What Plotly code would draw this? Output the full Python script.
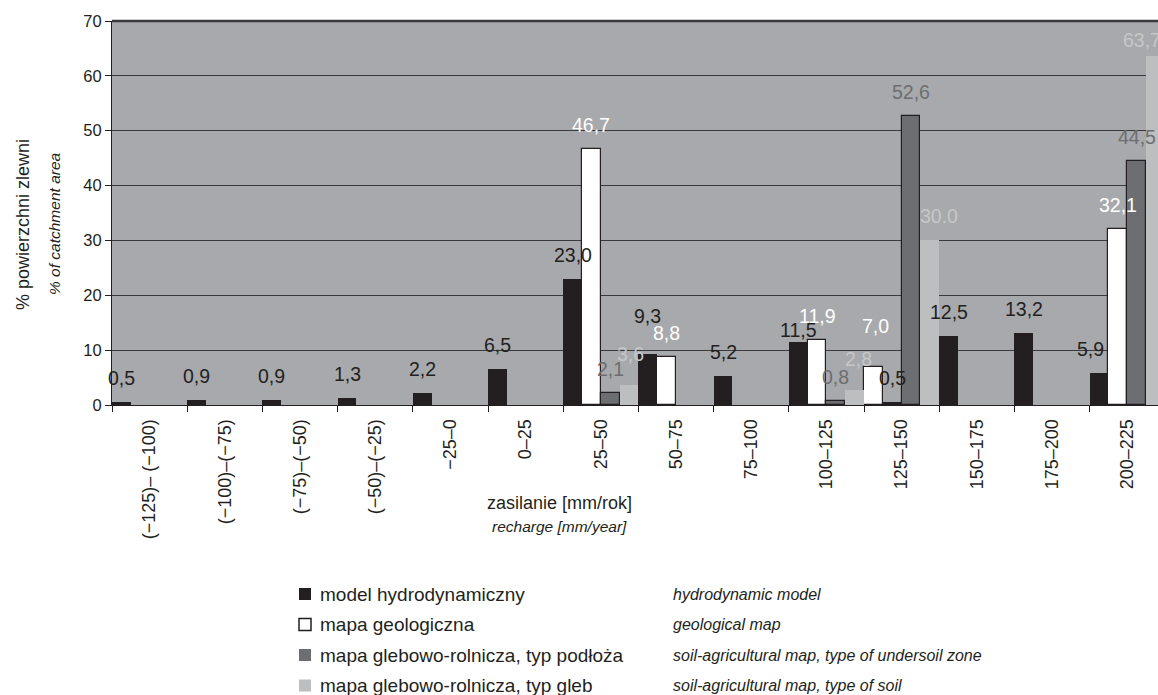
import plotly.graph_objects as go

# ---------------- data ----------------
categories = ["(−125)– (−100)", "(−100)–(−75)", "(−75)–(−50)", "(−50)–(−25)", "−25–0",
              "0–25", "25–50", "50–75", "75–100", "100–125", "125–150", "150–175",
              "175–200", "200–225"]
model_hydro = [0.5, 0.9, 0.9, 1.3, 2.2, 6.5, 23.0, 9.3, 5.2, 11.5, 0.5, 12.5, 13.2, 5.9]
geol_map = [None, None, None, None, None, None, 46.7, 8.8, None, 11.9, 7.0, None, None, 32.1]
soil_undersoil = [None, None, None, None, None, None, 2.1, None, None, 0.8, 52.6, None, None, 44.5]
soil_type = [None, None, None, None, None, None, 3.6, None, None, 2.8, 30.0, None, None, 63.7]

names_pl = ["model hydrodynamiczny", "mapa geologiczna",
            "mapa glebowo-rolnicza, typ podłoża", "mapa glebowo-rolnicza, typ gleb"]
names_en = ["hydrodynamic model", "geological map",
            "soil-agricultural map, type of undersoil zone", "soil-agricultural map, type of soil"]

# ---------------- style ----------------
FONT = "Liberation Sans, Arial, sans-serif"
INK = "#231f20"
bar_colors = ["#231f20", "#ffffff", "#6d6e71", "#bcbec0"]
line_w = [0, 1.2, 1.2, 0]
label_colors = ["#231f20", "#ffffff", "#6d6e71", "#c6c7c9"]
series = [model_hydro, geol_map, soil_undersoil, soil_type]

W, H = 1158, 695
ML, MT, MB = 112, 21, 290
PW, PH = W - ML, H - MT - MB
CAT_PX = 75.2
x_max = (PW / CAT_PX) - 0.5

slot_w = 0.25
# in the 125–150 group the first two bars are drawn in swapped order
swapped_cat = categories.index("125–150")


def slot_of(t, i):
    if i == swapped_cat and t in (0, 1):
        return 1 - t
    return t


def fmt(t, i, v):
    s = f"{v:.1f}"
    if not (t == 3 and i == swapped_cat):
        s = s.replace(".", ",")
    return s


# label nudges (dx, dy) in px for a few labels that were moved in the original
nudges = {(0, 7): (0, 14), (0, 9): (0, -12), (0, 13): (-9, 0),
          (1, 10): (2, 17), (3, 6): (1, 7), (3, 9): (4, 7), (3, 10): (9, 0),
          (3, 13): (-13, -8)}

fig = go.Figure()
annotations = []
for t, vals in enumerate(series):
    offsets = [-0.5 + slot_w * slot_of(t, i) for i in range(len(categories))]
    fig.add_trace(go.Bar(
        x=categories, y=vals, name=names_pl[t],
        offset=offsets, width=slot_w,
        marker=dict(color=bar_colors[t], line=dict(color=INK, width=line_w[t])),
        showlegend=False, hoverinfo="x+y",
    ))
    for i, v in enumerate(vals):
        if v is None:
            continue
        dx, dy = nudges.get((t, i), (0, 0))
        annotations.append(dict(
            x=i + offsets[i] + slot_w / 2, y=v, xref="x", yref="y",
            text=fmt(t, i, v), showarrow=False,
            xanchor="center", yanchor="middle",
            xshift=dx, yshift=24 + dy,
            font=dict(family=FONT, size=19.5, color=label_colors[t]),
        ))


def px2x(px):
    return (px - ML) / PW


def px2y(py):
    return (MT + PH - py) / PH


# axis titles
annotations += [
    dict(text="% powierzchni zlewni", x=px2x(22.5), y=px2y(224.5), xref="paper", yref="paper",
         textangle=-90, showarrow=False, xanchor="center", yanchor="middle",
         font=dict(family=FONT, size=18, color=INK)),
    dict(text="<i>% of catchment area</i>", x=px2x(55), y=px2y(224), xref="paper", yref="paper",
         textangle=-90, showarrow=False, xanchor="center", yanchor="middle",
         font=dict(family=FONT, size=15.5, color=INK)),
    dict(text="zasilanie [mm/rok]", x=px2x(559), y=px2y(503), xref="paper", yref="paper",
         showarrow=False, xanchor="center", yanchor="middle",
         font=dict(family=FONT, size=18, color=INK)),
    dict(text="<i>recharge [mm/year]</i>", x=px2x(559), y=px2y(526), xref="paper", yref="paper",
         showarrow=False, xanchor="center", yanchor="middle",
         font=dict(family=FONT, size=15.5, color=INK)),
]

# legend (manual, two-language)
shapes = []
row_y = [594, 624.5, 655, 685.5]
for k in range(4):
    yc = row_y[k]
    shapes.append(dict(type="rect", xref="paper", yref="paper",
                       x0=px2x(299), x1=px2x(311), y0=px2y(yc + 6), y1=px2y(yc - 6),
                       fillcolor=bar_colors[k],
                       line=dict(color=INK if k == 1 else bar_colors[k], width=1.5 if k == 1 else 0)))
    annotations.append(dict(text=names_pl[k], x=px2x(318), y=px2y(yc), xref="paper", yref="paper",
                            showarrow=False, xanchor="left", yanchor="middle",
                            font=dict(family=FONT, size=19, color=INK)))
    annotations.append(dict(text=f"<i>{names_en[k]}</i>", x=px2x(671), y=px2y(yc), xref="paper",
                            yref="paper", showarrow=False, xanchor="left", yanchor="middle",
                            font=dict(family=FONT, size=16, color=INK)))

# heavier top frame line
shapes.append(dict(type="line", xref="paper", yref="paper", x0=0, x1=1, y0=1, y1=1,
                   line=dict(color="#3a3a3a", width=2.5)))

fig.update_layout(
    width=W, height=H,
    margin=dict(l=ML, r=0, t=MT, b=MB, pad=0),
    paper_bgcolor="white", plot_bgcolor="#a7a9ac",
    barmode="overlay", bargap=0, bargroupgap=0,
    showlegend=False,
    font=dict(family=FONT, color=INK),
    annotations=annotations, shapes=shapes,
    xaxis=dict(type="category", range=[-0.5, x_max], tickson="boundaries",
               showline=True, linecolor=INK, linewidth=1,
               ticks="outside", ticklen=6, tickcolor=INK, tickwidth=1,
               ticklabelstandoff=6,
               tickangle=-90, tickfont=dict(family=FONT, size=18, color=INK),
               showgrid=False, automargin=False, fixedrange=True),
    yaxis=dict(range=[0, 70], dtick=10, tick0=0,
               showline=True, linecolor=INK, linewidth=1,
               ticks="outside", ticklen=6, tickcolor=INK, tickwidth=1,
               tickfont=dict(family=FONT, size=16.5, color=INK),
               showgrid=True, gridcolor="#3a3a3a", gridwidth=1,
               zeroline=False, automargin=False, fixedrange=True),
)

fig.write_html(
    "out.html",
    config={"displayModeBar": False},
    post_script="document.body.style.margin='0';document.body.style.padding='0';"
                "document.documentElement.style.overflow='hidden';",
)
